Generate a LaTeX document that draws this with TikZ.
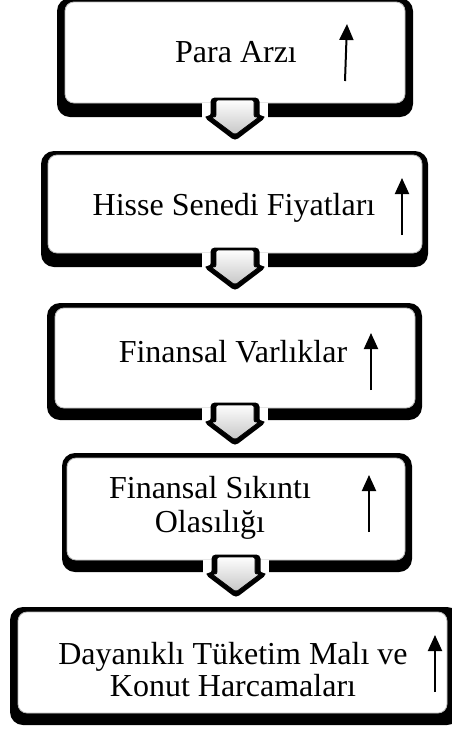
\documentclass[tikz,border=0pt]{standalone}
\usepackage{fontspec}
\setmainfont{Liberation Serif}
\usetikzlibrary{arrows.meta,calc}

\tikzset{
  frame/.style={fill=black, rounded corners=13pt},
  panel/.style={fill=white, draw=gray!55, line width=0.8pt, rounded corners=9pt,
                inner sep=0pt, outer sep=0pt},
  label/.style={font=\fontsize{32}{32}\selectfont, inner sep=0pt, align=center},
  rise/.style={line width=2pt, -{Triangle[width=14pt,length=16pt]}},
  gap/.style={fill=white},
  flowshadow/.style={fill=black, draw=black, line width=3pt, rounded corners=3pt},
  flowbody/.style={top color=white, bottom color=gray!45, draw=black, line width=0.8pt,
                   rounded corners=2pt},
}

% block arrow hanging below the south side of a panel
\newcommand{\flowarrow}[1]{%
  \fill[gap] ([xshift=-33pt]#1.south) rectangle ++(66,15);
  \path[flowshadow] ([yshift=4pt]#1.south) ++(-23,0) -- ++(0,18) -- ++(-6,0)
        -- ++(29,22) -- ++(29,-22) -- ++(-6,0) -- ++(0,-18) -- cycle;
  \path[flowbody] ([yshift=4pt]#1.south) ++(-19,1) -- ++(0,17) -- ++(-5,0)
        -- ++(24,18) -- ++(24,-18) -- ++(-5,0) -- ++(0,-17) -- cycle;
}

\begin{document}
\begin{tikzpicture}[x=1pt,y=-1pt]
\useasboundingbox (0,0) rectangle (451,729);

% dark frames behind the panels
\path[frame] (57,-2) rectangle (413,117);
\path[frame] (41,151) rectangle (428,267);
\path[frame] (47,303) rectangle (422,420);
\path[frame] (62,453) rectangle (412,572);
\path[frame] (10,607) rectangle (460,725);

% white panels
\node[panel, minimum width=340pt, minimum height=101pt] (b1) at (235,52.5) {};
\node[panel, minimum width=374pt, minimum height=98pt]  (b2) at (235,204) {};
\node[panel, minimum width=360pt, minimum height=100pt] (b3) at (235,358) {};
\node[panel, minimum width=338pt, minimum height=102pt] (b4) at (236,509) {};
\node[panel, minimum width=429pt, minimum height=101pt] (b5) at (232.5,662.5) {};

% texts
\node[label, anchor=base] (t1) at (236,62) {Para Arzı};
\node[label, anchor=base] (t2) at (234,215) {Hisse Senedi Fiyatları};
\node[label, anchor=base] (t3) at (233,362) {Finansal Varlıklar};
\node[label, font=\fontsize{32}{34}\selectfont] (t4) at (210,508) {Finansal Sıkıntı\\Olasılığı};
\node[label] (t5) at (233,670) {Dayanıklı Tüketim Malı ve\\Konut Harcamaları};

% rising arrows
\coordinate (u1a) at (345,81);  \coordinate (u1b) at (347,24);
\coordinate (u2a) at (402,235); \coordinate (u2b) at (402,178);
\coordinate (u3a) at (371,390); \coordinate (u3b) at (371,333);
\coordinate (u4a) at (369,532); \coordinate (u4b) at (369,475);
\coordinate (u5a) at (435,692); \coordinate (u5b) at (435,635);
\foreach \i in {1,...,5} \draw[rise] (u\i a) -- (u\i b);

% block arrows between the panels
\flowarrow{b1}
\flowarrow{b2}
\flowarrow{b3}
\flowarrow{b4}
\end{tikzpicture}
\end{document}
